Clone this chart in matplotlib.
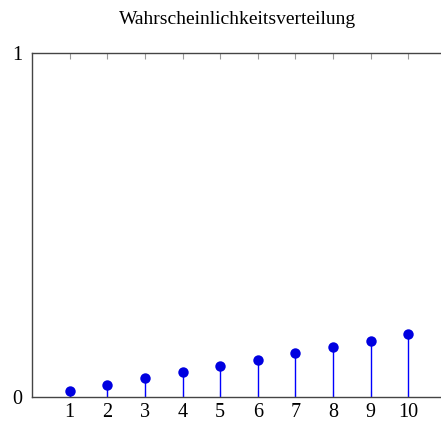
import matplotlib
matplotlib.use("Agg")
import matplotlib.pyplot as plt

x_vals = [1, 2, 3, 4, 5, 6, 7, 8, 9, 10]
probs = [0.018, 0.036, 0.055, 0.073, 0.091, 0.109, 0.127, 0.145, 0.164, 0.182]
title = "Wahrscheinlichkeitsverteilung"
y_ticks = [0, 1]

plt.rcParams['font.family'] = ['Liberation Serif', 'DejaVu Serif']

fig = plt.figure(figsize=(4.41, 4.24), dpi=100)
ax = fig.add_axes([32/441, 27/424, (446-32)/441, (397-53)/424])

ml, sl, bl = ax.stem(x_vals, probs, basefmt=' ')
plt.setp(sl, color='#0000ff', linewidth=1.0)
plt.setp(ml, color='#0000e0', markersize=7.5, markeredgewidth=0)

ax.set_xlim(0, 11)
ax.set_ylim(0, 1)
ax.set_xticks(x_vals)
ax.set_xticklabels([str(v) for v in x_vals])
ax.set_yticks(y_ticks)
ax.set_yticklabels([str(v) for v in y_ticks])

for s in ['left', 'bottom', 'top']:
    ax.spines[s].set_color('#444444')
    ax.spines[s].set_linewidth(1.0)
ax.spines['right'].set_visible(False)

ax.tick_params(axis='x', direction='in', top=True, bottom=True, length=4,
               color='#999999', labelsize=14.5, pad=4)
ax.tick_params(axis='y', direction='in', left=True, length=0,
               labelsize=14.5, pad=7)

fig.text(238/441, 1 - 19/424, title, ha='center', va='center', fontsize=14)

fig.savefig('out.png', dpi=100)
